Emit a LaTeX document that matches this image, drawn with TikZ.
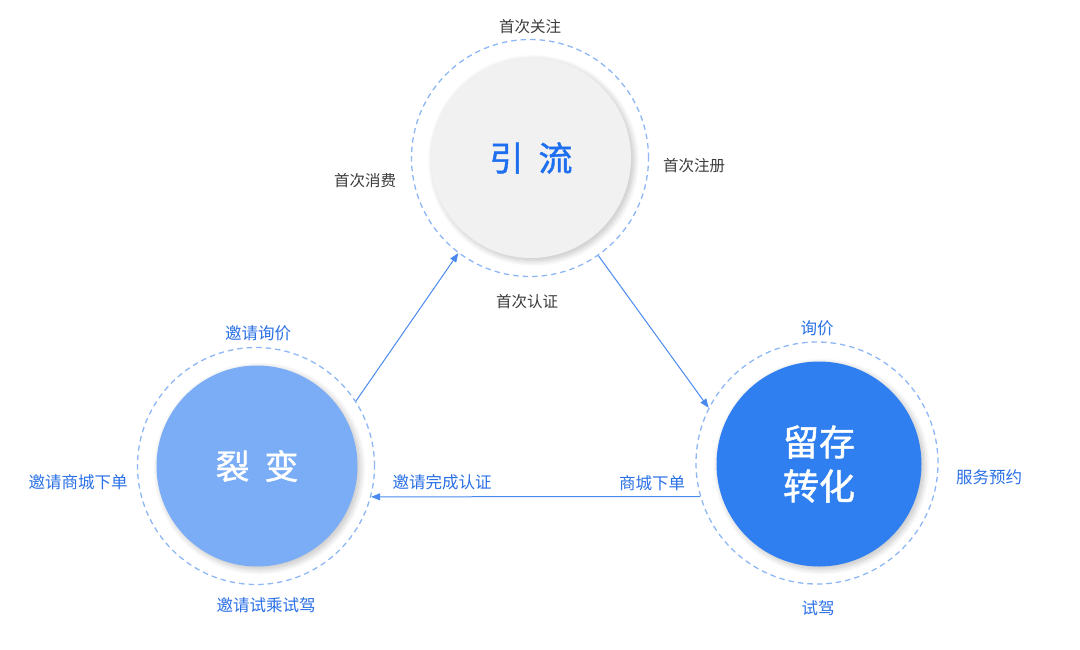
\documentclass[tikz,border=0pt]{standalone}
\usepackage{fontspec}
\setmainfont{Noto Sans CJK SC}
\newfontfamily\bigfont{Noto Sans CJK SC}[FakeBold=1.3]
\usetikzlibrary{shadows.blur,arrows.meta}
\definecolor{topfill}{HTML}{F1F1F1}
\definecolor{bigblue}{HTML}{1E6FF0}
\definecolor{leftfill}{HTML}{7AADF6}
\definecolor{rightfill}{HTML}{2F7FF0}
\definecolor{ringc}{HTML}{8DB7F5}
\definecolor{arrowc}{HTML}{4A8AF0}
\definecolor{greytxt}{HTML}{3C3C3C}
\definecolor{bluetxt}{HTML}{2A70E6}
\begin{document}
\begin{tikzpicture}[x=1pt,y=-1pt,
  ring/.style={circle, draw=ringc, line width=1.3pt, dash pattern=on 5.5pt off 4pt, inner sep=0pt},
  core/.style={circle, inner sep=0pt, blur shadow={shadow blur steps=12, shadow xshift=2.5pt, shadow yshift=-2.5pt, shadow opacity=25, shadow blur radius=6pt}},
  glabel/.style={text=greytxt, font=\fontsize{15.5}{18}\selectfont, inner sep=0pt},
  blabel/.style={text=bluetxt, font=\fontsize{16.5}{19}\selectfont, inner sep=0pt},
  flow/.style={draw=arrowc, line width=1pt, -{Triangle[length=9pt,width=7pt]}}
]
\useasboundingbox (0,0) rectangle (1080,649);
% top circle
\node[ring, minimum size=237pt] (r1) at (530,158) {};
\node[core, fill=topfill, minimum size=200pt, text=bigblue, font=\bigfont\fontsize{34}{40}\selectfont] (c1) at (531,158) {引\hspace{15pt}流};
% left circle
\node[ring, minimum size=237pt] (r2) at (256,466) {};
\node[core, fill=leftfill, minimum size=201pt, text=white, font=\bigfont\fontsize{34}{40}\selectfont] (c2) at (257,466) {裂\hspace{15pt}变};
% right circle
\node[ring, minimum size=242pt] (r3) at (817,463) {};
\node[core, fill=rightfill, minimum size=205pt, text=white, align=center, font=\bigfont\fontsize{36}{44}\selectfont] (c3) at (819,464) {留存\\转化};
% labels
\node[glabel] (l1) at (530,27) {首次关注};
\node[glabel] (l2) at (694,166) {首次注册};
\node[glabel] (l3) at (365,181) {首次消费};
\node[glabel] (l4) at (527,302) {首次认证};
\node[blabel] (l5) at (258,333) {邀请询价};
\node[blabel] (l6) at (78,482) {邀请商城下单};
\node[blabel] (l7) at (266,605) {邀请试乘试驾};
\node[blabel] (l8) at (442,482) {邀请完成认证};
\node[blabel] (l9) at (817,328) {询价};
\node[blabel] (l10) at (989,477) {服务预约};
\node[blabel] (l11) at (818,608) {试驾};
\node[blabel] (l12) at (652,483) {商城下单};
% connectors
\draw[flow] (r2.33.7) -- (r1.233.9);
\draw[flow] (r1.305) -- (r3.153.2);
\draw[flow] (r3.196) -- (r2.-15.2);
\end{tikzpicture}
\end{document}
